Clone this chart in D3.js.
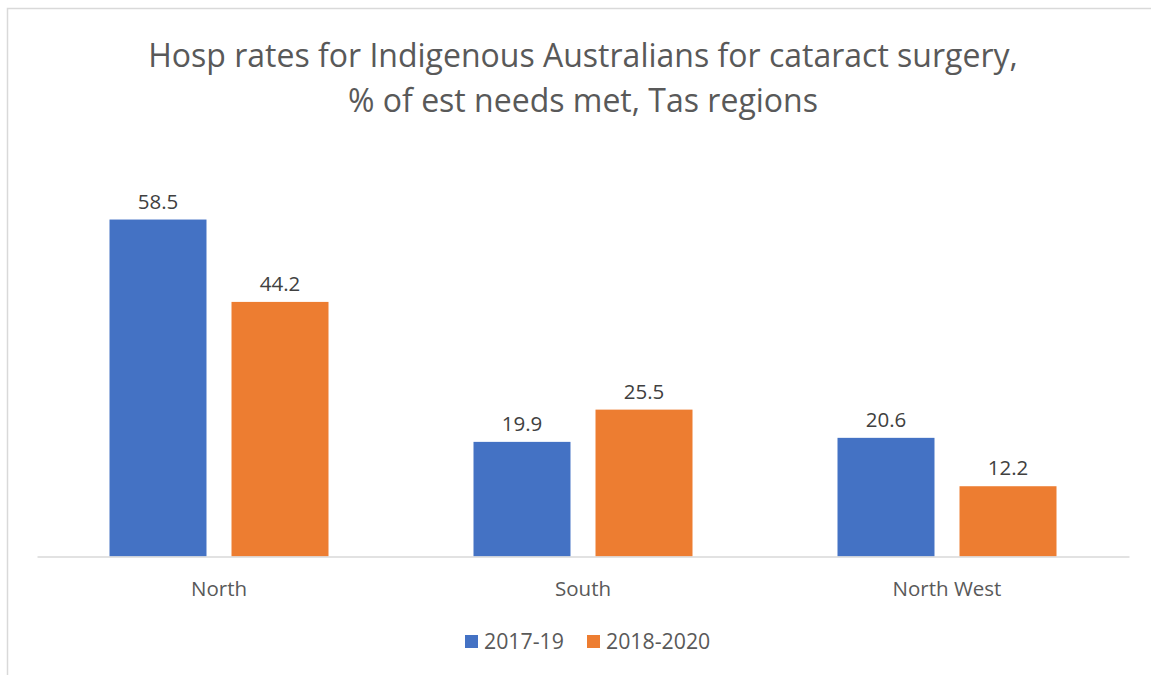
<!DOCTYPE html>
<html><head><meta charset="utf-8">
<script src="https://cdn.jsdelivr.net/npm/d3@7"></script>
<style>body{margin:0;background:#fff;} svg{display:block;font-family:"Open Sans","Noto Sans",sans-serif;}</style>
</head><body>
<svg id="c" width="1151" height="675"></svg>
<script>
const categories = ["North", "South", "North West"];
const seriesNames = ["2017-19", "2018-2020"];
const values2017_19 = [58.5, 19.9, 20.6];
const values2018_2020 = [44.2, 25.5, 12.2];
const colors = ["#4472C4", "#ED7D31"];
const titleLines = ["Hosp rates for Indigenous Australians for cataract surgery,", "% of est needs met, Tas regions"];

const series = [values2017_19, values2018_2020];
const svg = d3.select("#c");

svg.append("rect").attr("x", 7.5).attr("y", 8.5).attr("width", 1160).attr("height", 700)
  .attr("fill", "#fff").attr("stroke", "#d9d9d9").attr("stroke-width", 1.5);

const x0 = d3.scaleBand().domain(categories).range([37, 1129]).padding(0);
const x1 = d3.scaleBand().domain(seriesNames).range([72.5, 291.5]).paddingInner(0.205).paddingOuter(0);
const y = d3.scaleLinear().domain([0, 70]).range([556.5, 556.5 - 5.76 * 70]);

// title
const t = svg.append("text").attr("text-anchor", "middle").attr("fill", "#595959").style("font-size", "32px");
titleLines.forEach((l, i) => {
  t.append("tspan").attr("x", 583).attr("y", 67 + i * 45).text(l);
});

// bars
const g = svg.append("g");
categories.forEach((c, ci) => {
  seriesNames.forEach((s, si) => {
    const v = series[si][ci];
    const bx = x0(c) + x1(s);
    g.append("rect").attr("x", bx).attr("y", y(v)).attr("width", x1.bandwidth())
      .attr("height", y(0) - y(v)).attr("fill", colors[si]);
    g.append("text").attr("x", bx + x1.bandwidth() / 2).attr("y", y(v) - 11)
      .attr("text-anchor", "middle").attr("fill", "#404040").style("font-size", "20.5px")
      .text(v.toFixed(1));
  });
});

// axis
const ax = svg.append("g").attr("transform", `translate(0,${y(0)})`)
  .call(d3.axisBottom(x0).tickSize(0).tickPadding(25));
ax.select(".domain").attr("stroke", "#d9d9d9").attr("stroke-width", 1.5);
ax.selectAll("text").attr("fill", "#595959").style("font-size", "20.5px").style("font-family", '"Open Sans","Noto Sans",sans-serif');

// legend
const legX = [465, 587];
seriesNames.forEach((s, i) => {
  svg.append("rect").attr("x", legX[i]).attr("y", 635).attr("width", 13).attr("height", 13).attr("fill", colors[i]);
  svg.append("text").attr("x", legX[i] + 19).attr("y", 649).attr("fill", "#595959").style("font-size", "21.3px").text(s);
});
</script>
</body></html>
